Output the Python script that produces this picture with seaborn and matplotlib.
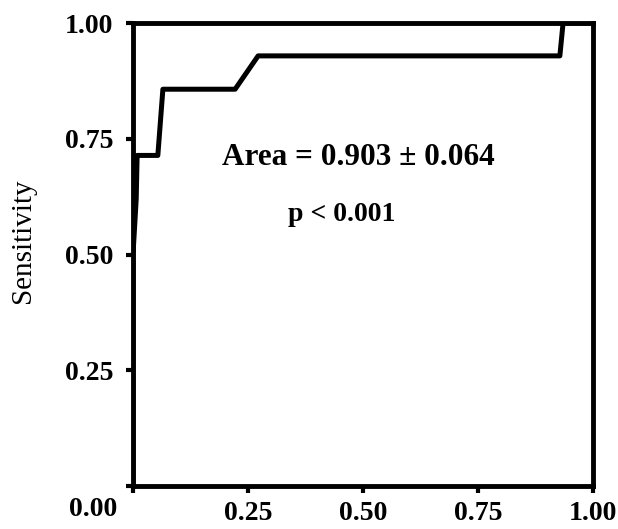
"""ROC curve: sensitivity vs 1 - specificity."""

import matplotlib

matplotlib.use("Agg")
import matplotlib.pyplot as plt
import pandas as pd
import seaborn as sns

# ROC curve points
FPR = [0.0, 0.0, 0.007, 0.009, 0.054, 0.065, 0.222, 0.272, 0.928, 0.935, 1.0]
TPR = [0.0, 0.50, 0.62, 0.714, 0.714, 0.857, 0.857, 0.929, 0.929, 1.0, 1.0]

TICKS = [0.0, 0.25, 0.50, 0.75, 1.00]
X_TICK_LABELS = ["", "0.25", "0.50", "0.75", "1.00"]
Y_TICK_LABELS = ["", "0.25", "0.50", "0.75", "1.00"]
CORNER_LABEL = "0.00"
Y_LABEL = "Sensitivity"
AREA_TEXT = "Area = 0.903 \u00b1 0.064"
P_TEXT = "p < 0.001"

sns.set_style("ticks")
plt.rcParams["font.family"] = ["Liberation Serif", "DejaVu Serif"]
plt.rcParams["text.color"] = "black"
plt.rcParams["axes.labelcolor"] = "black"
plt.rcParams["xtick.color"] = "black"
plt.rcParams["ytick.color"] = "black"
plt.rcParams["figure.dpi"] = 100


def main() -> None:
    df = pd.DataFrame({"fpr": FPR, "tpr": TPR})

    fig = plt.figure(figsize=(6.18, 5.29), facecolor="white")
    ax = fig.add_axes([0.2152, 0.0813, 0.7443, 0.8752])

    sns.lineplot(
        data=df,
        x="fpr",
        y="tpr",
        sort=False,
        estimator=None,
        color="black",
        linewidth=3.6,
        ax=ax,
    )

    ax.set_xlim(0, 1)
    ax.set_ylim(0, 1)
    ax.set_xticks(TICKS)
    ax.set_yticks(TICKS)
    ax.set_xticklabels(X_TICK_LABELS, fontsize=20, fontweight="bold")
    ax.set_yticklabels(Y_TICK_LABELS, fontsize=20, fontweight="bold")
    ax.tick_params(axis="both", direction="out", length=5, width=3, color="black",
                   labelcolor="black")
    ax.tick_params(axis="x", pad=6)
    ax.tick_params(axis="y", pad=9)
    ax.set_xlabel("")
    ax.set_ylabel(Y_LABEL, fontsize=21, color="black")
    ax.yaxis.set_label_coords(-0.21, 0.53)

    for spine in ax.spines.values():
        spine.set_visible(True)
        spine.set_linewidth(3.5)
        spine.set_color("black")

    ax.text(-0.087, -0.05, CORNER_LABEL, fontsize=20, fontweight="bold",
            ha="center", va="center", clip_on=False)
    ax.text(0.193, 0.694, AREA_TEXT, fontsize=22.5, fontweight="bold",
            ha="left", va="baseline")
    ax.text(0.337, 0.573, P_TEXT, fontsize=20, fontweight="bold",
            ha="left", va="baseline")

    fig.savefig("out.png", dpi=100, facecolor="white")
    plt.close(fig)


if __name__ == "__main__":
    main()
